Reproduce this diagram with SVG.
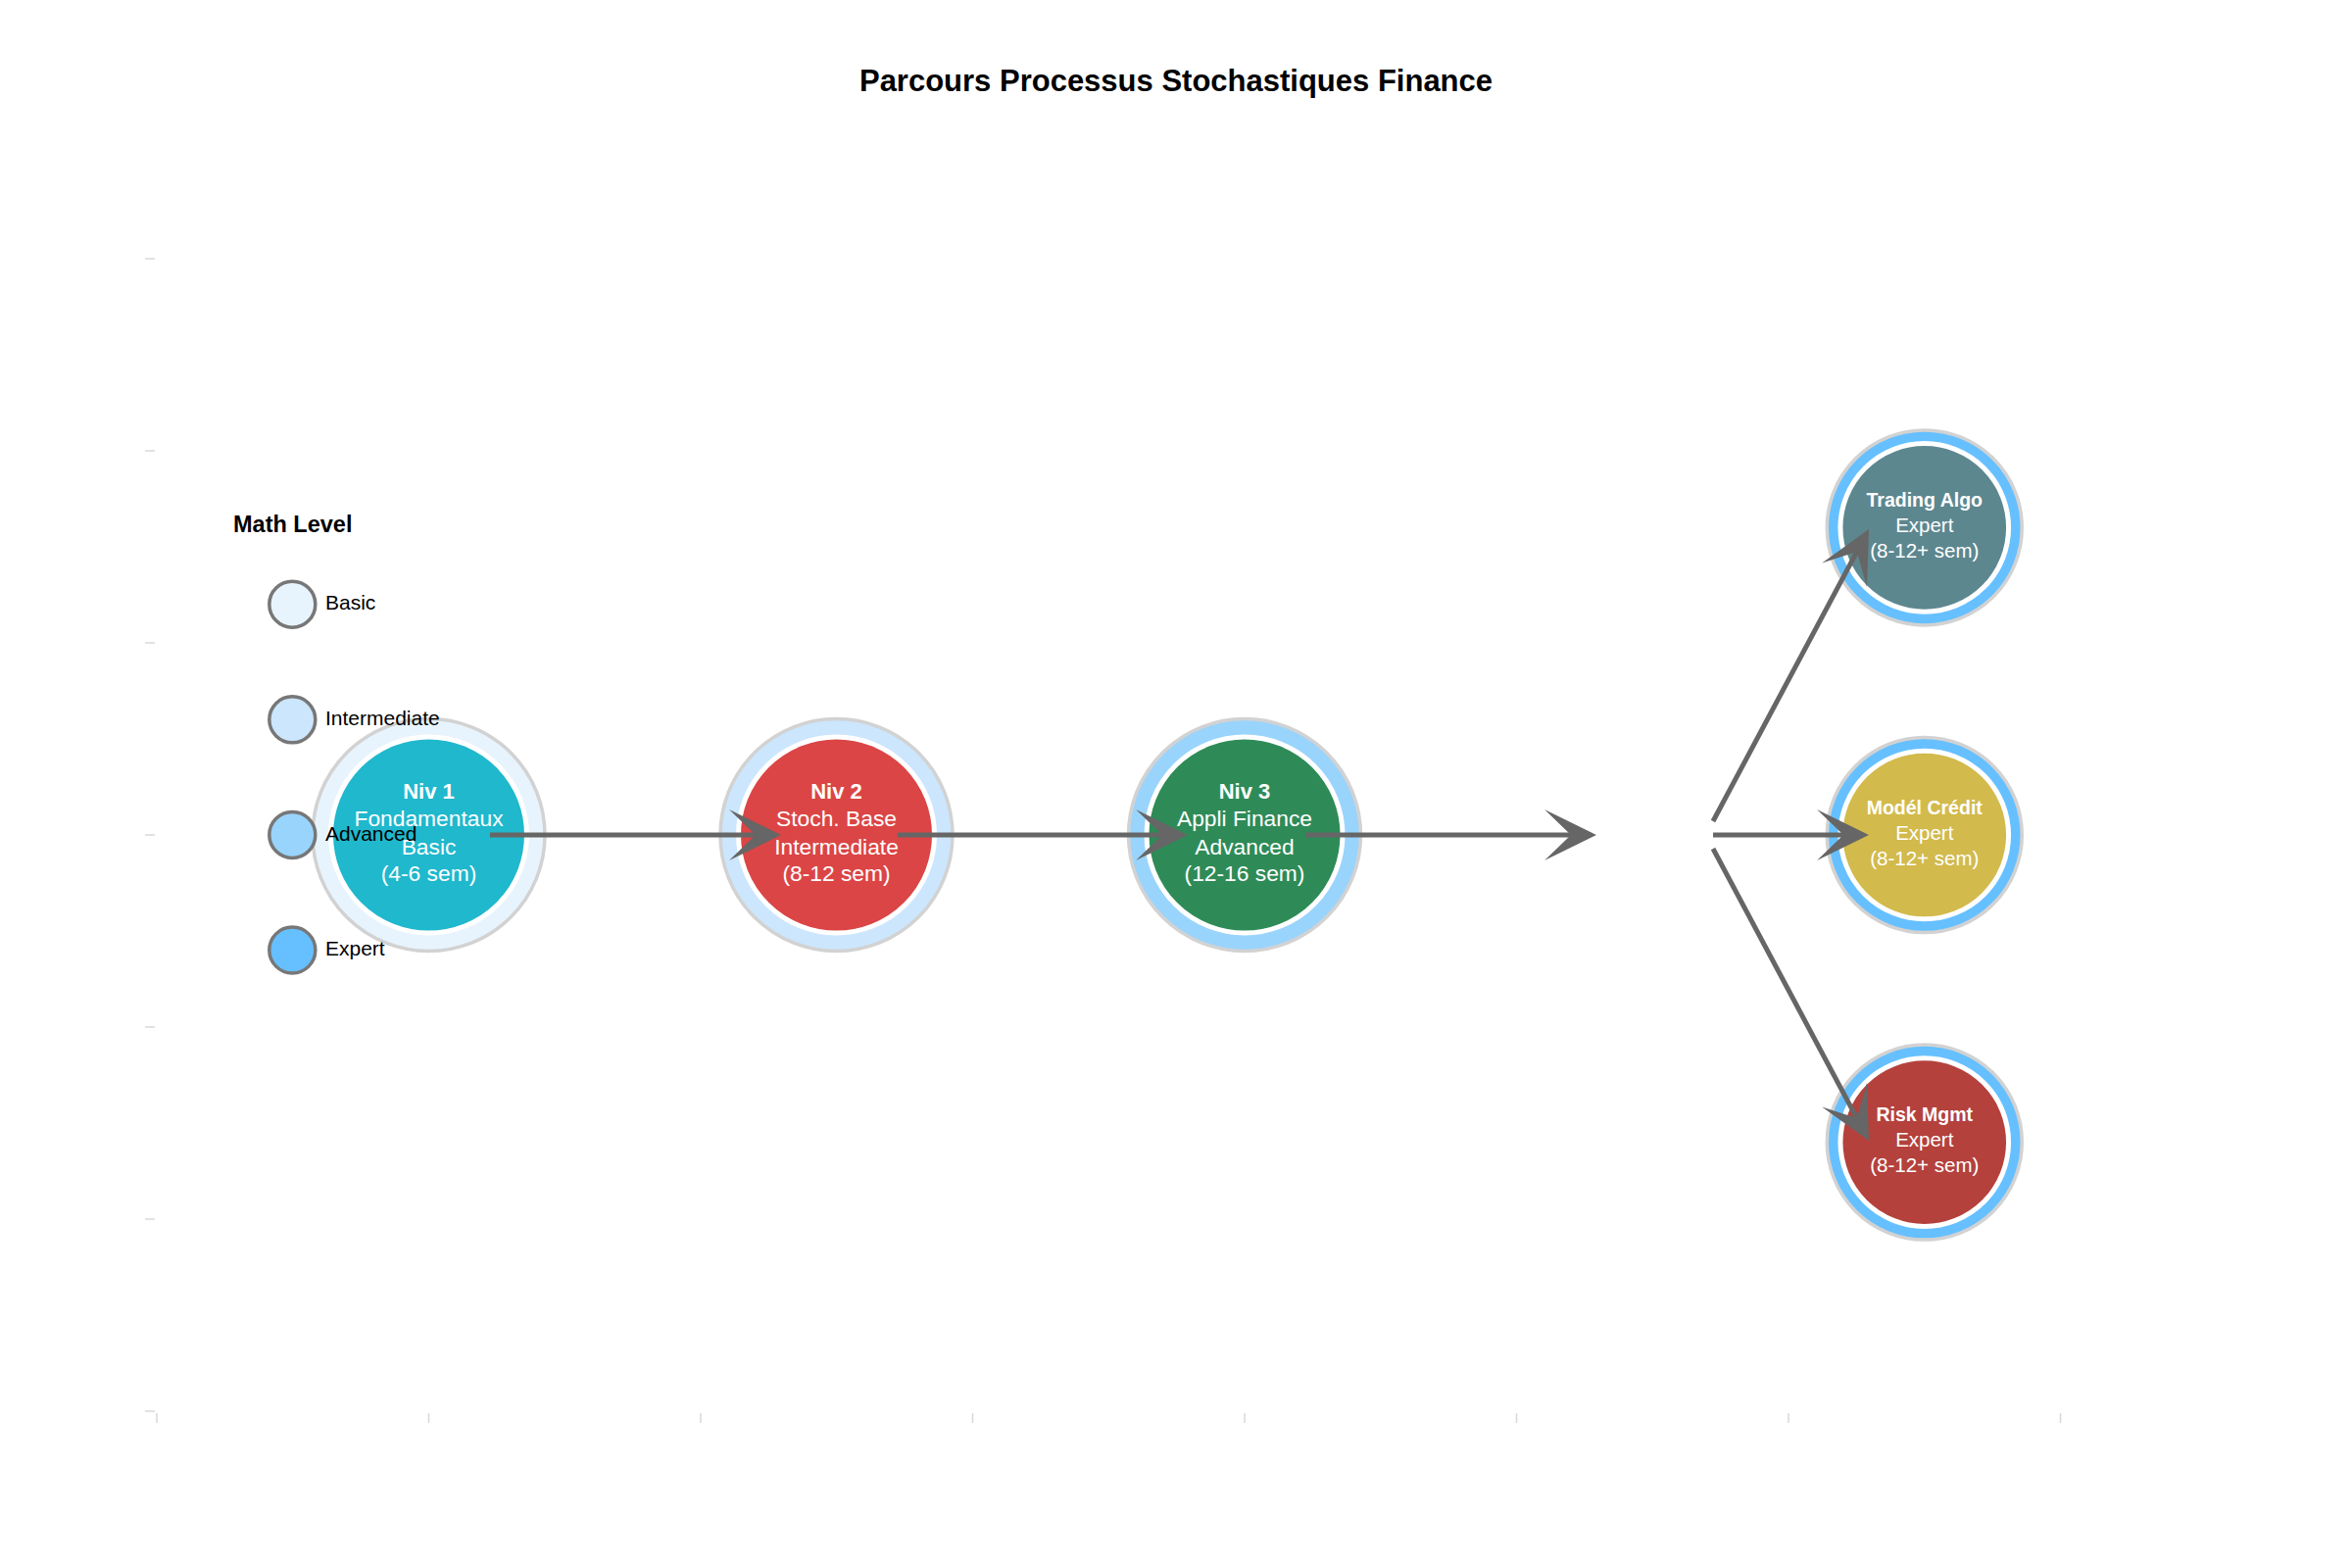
<svg xmlns="http://www.w3.org/2000/svg" width="2400" height="1600" viewBox="0 0 2400 1600">
<style>
text{font-family:"Liberation Sans",Arial,Helvetica,sans-serif}
.title{font-size:31px;font-weight:bold;fill:#000}
.ring{stroke:#D2D2D2;stroke-width:3.5}
.core{stroke:#FFFFFF;stroke-width:5}
.nt{fill:#FFFFFF;text-anchor:middle}
.bt{font-size:22px;font-weight:bold}
.bs{font-size:22.8px}
.st{font-size:19.5px;font-weight:bold}
.ss{font-size:20.5px}
.conn{stroke:#666666;stroke-width:5;fill:none;marker-end:url(#ah)}
.tick{stroke:#D8D8D8;stroke-width:1.5}
.lg{stroke:#777777;stroke-width:3.5}
.lt{font-size:21px;fill:#000}
.lh{font-size:23.5px;font-weight:bold;fill:#000}
.basic{fill:#E8F4FD}
.inter{fill:#CCE6FD}
.adv{fill:#99D4FD}
.exp{fill:#66C0FF}
</style>
<defs>
<marker id="ah" markerUnits="userSpaceOnUse" markerWidth="60" markerHeight="60" viewBox="-30 -30 60 60" refX="0" refY="0" orient="auto" overflow="visible">
<path d="M26,0 L-27,-26 L0,0 L-27,26 Z" fill="#666666"/>
</marker>
</defs>
<rect x="0" y="0" width="2400" height="1600" fill="#FFFFFF"/>
<text class="title" x="1200" y="93" text-anchor="middle">Parcours Processus Stochastiques Finance</text>
<g id="axes">
<line class="tick" x1="148" y1="264" x2="158" y2="264"/>
<line class="tick" x1="148" y1="460" x2="158" y2="460"/>
<line class="tick" x1="148" y1="656" x2="158" y2="656"/>
<line class="tick" x1="148" y1="852" x2="158" y2="852"/>
<line class="tick" x1="148" y1="1048" x2="158" y2="1048"/>
<line class="tick" x1="148" y1="1244" x2="158" y2="1244"/>
<line class="tick" x1="148" y1="1440" x2="158" y2="1440"/>
<line class="tick" x1="160" y1="1442" x2="160" y2="1452"/>
<line class="tick" x1="437.5" y1="1442" x2="437.5" y2="1452"/>
<line class="tick" x1="715" y1="1442" x2="715" y2="1452"/>
<line class="tick" x1="992.5" y1="1442" x2="992.5" y2="1452"/>
<line class="tick" x1="1270" y1="1442" x2="1270" y2="1452"/>
<line class="tick" x1="1547.5" y1="1442" x2="1547.5" y2="1452"/>
<line class="tick" x1="1825" y1="1442" x2="1825" y2="1452"/>
<line class="tick" x1="2102.5" y1="1442" x2="2102.5" y2="1452"/>
</g>
<g id="node-niv1">
<circle class="ring basic" cx="437.5" cy="852" r="118.5"/>
<circle class="core" cx="437.5" cy="852" r="100" fill="#1FB8CD"/>
<text class="nt bt" x="437.5" y="815">Niv 1</text>
<text class="nt bs" x="437.5" y="843">Fondamentaux</text>
<text class="nt bs" x="437.5" y="872">Basic</text>
<text class="nt bs" x="437.5" y="899">(4-6 sem)</text>
</g>
<g id="node-niv2">
<circle class="ring inter" cx="853.5" cy="852" r="118.5"/>
<circle class="core" cx="853.5" cy="852" r="100" fill="#DB4545"/>
<text class="nt bt" x="853.5" y="815">Niv 2</text>
<text class="nt bs" x="853.5" y="843">Stoch. Base</text>
<text class="nt bs" x="853.5" y="872">Intermediate</text>
<text class="nt bs" x="853.5" y="899">(8-12 sem)</text>
</g>
<g id="node-niv3">
<circle class="ring adv" cx="1270" cy="852" r="118.5"/>
<circle class="core" cx="1270" cy="852" r="100" fill="#2E8B57"/>
<text class="nt bt" x="1270" y="815">Niv 3</text>
<text class="nt bs" x="1270" y="843">Appli Finance</text>
<text class="nt bs" x="1270" y="872">Advanced</text>
<text class="nt bs" x="1270" y="899">(12-16 sem)</text>
</g>
<g id="node-trading">
<circle class="ring exp" cx="1963.75" cy="538.4" r="99.5"/>
<circle class="core" cx="1963.75" cy="538.4" r="85.8" fill="#5D878F"/>
<text class="nt st" x="1963.75" y="517">Trading Algo</text>
<text class="nt ss" x="1963.75" y="543">Expert</text>
<text class="nt ss" x="1963.75" y="569">(8-12+ sem)</text>
</g>
<g id="node-credit">
<circle class="ring exp" cx="1963.75" cy="852" r="99.5"/>
<circle class="core" cx="1963.75" cy="852" r="85.8" fill="#D2BA4C"/>
<text class="nt st" x="1963.75" y="831">Modél Crédit</text>
<text class="nt ss" x="1963.75" y="857">Expert</text>
<text class="nt ss" x="1963.75" y="883">(8-12+ sem)</text>
</g>
<g id="node-risk">
<circle class="ring exp" cx="1963.75" cy="1165.6" r="99.5"/>
<circle class="core" cx="1963.75" cy="1165.6" r="85.8" fill="#B4413C"/>
<text class="nt st" x="1963.75" y="1144">Risk Mgmt</text>
<text class="nt ss" x="1963.75" y="1170">Expert</text>
<text class="nt ss" x="1963.75" y="1196">(8-12+ sem)</text>
</g>
<g id="connectors">
<line class="conn" x1="500" y1="852" x2="771" y2="852"/>
<line class="conn" x1="916" y1="852" x2="1186" y2="852"/>
<line class="conn" x1="1332" y1="852" x2="1603" y2="852"/>
<line class="conn" x1="1748" y1="838" x2="1894.8" y2="562.9"/>
<line class="conn" x1="1748" y1="852" x2="1881" y2="852"/>
<line class="conn" x1="1748" y1="866" x2="1894.8" y2="1141.1"/>
</g>
<g id="legend">
<text class="lh" x="238" y="543">Math Level</text>
<circle class="lg basic" cx="298.3" cy="616.7" r="23.5"/>
<text class="lt" x="332" y="622">Basic</text>
<circle class="lg inter" cx="298.3" cy="734.3" r="23.5"/>
<text class="lt" x="332" y="740">Intermediate</text>
<circle class="lg adv" cx="298.3" cy="851.9" r="23.5"/>
<text class="lt" x="332" y="858">Advanced</text>
<circle class="lg exp" cx="298.3" cy="969.5" r="23.5"/>
<text class="lt" x="332" y="975">Expert</text>
</g>
</svg>
